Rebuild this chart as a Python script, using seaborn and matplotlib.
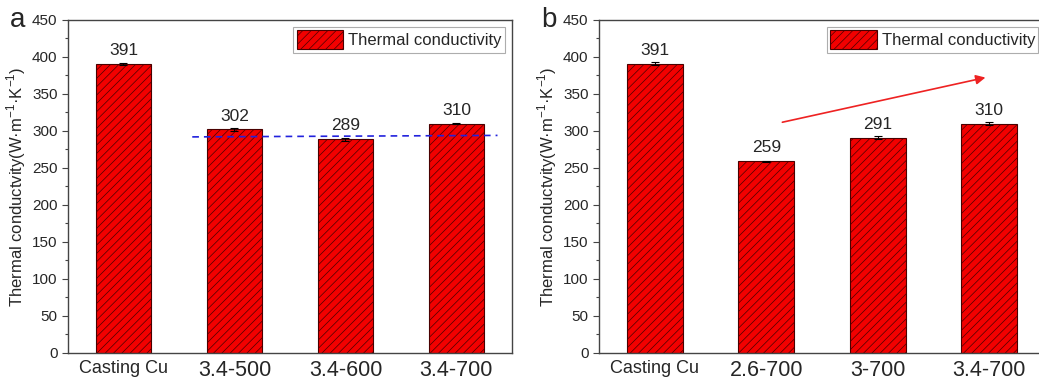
import pandas as pd
import seaborn as sns
import matplotlib.pyplot as plt

sns.set_style("white")
plt.rcParams['font.family'] = ['Liberation Sans', 'DejaVu Sans']
plt.rcParams['hatch.linewidth'] = 0.5
plt.rcParams['hatch.color'] = '#7a0000'

# Panel a data
cats_a = ["Casting Cu", "3.4-500", "3.4-600", "3.4-700"]
vals_a = [391, 302, 289, 310]
errs_a = [1.2, 2.0, 2.0, 1.2]

# Panel b data
cats_b = ["Casting Cu", "2.6-700", "3-700", "3.4-700"]
vals_b = [391, 259, 291, 310]
errs_b = [2.0, 1.0, 2.0, 2.0]

# Guide marks (data coordinates)
dash_x = [0.62, 3.37]
dash_y = [292, 294]
arrow_start = (1.12, 311)
arrow_end = (2.99, 373)

ylabel = "Thermal conductvity(W·m$^{\\mathregular{-1}}$·K$^{\\mathregular{-1}}$)"

fig = plt.figure(figsize=(10.39, 3.87), dpi=100)
ax_a = fig.add_axes([0.0654, 0.0879, 0.4273, 0.8605])
ax_b = fig.add_axes([0.5765, 0.0879, 0.4293, 0.8605])


def draw_panel(ax, cats, vals, errs, letter):
    df = pd.DataFrame({"sample": cats, "k": vals})
    sns.barplot(data=df, x="sample", y="k", ax=ax, color="#f20000",
                width=0.5, edgecolor="#4a0000", linewidth=0.8,
                saturation=1, label="Thermal conductivity")
    for p in ax.patches:
        p.set_hatch("////")
    ax.errorbar(range(len(cats)), vals, yerr=errs, fmt="none",
                ecolor="black", elinewidth=0.8, capsize=3, capthick=0.8)
    for i, v in enumerate(vals):
        ax.text(i, v + 8, str(v), ha="center", va="bottom", fontsize=12.5)
    ax.set_xlim(-0.5, len(cats) - 0.5)
    ax.set_ylim(0, 450)
    ax.set_yticks(range(0, 451, 50))
    ax.set_yticks(range(25, 451, 50), minor=True)
    ax.tick_params(axis="y", which="major", length=4, width=0.8,
                   labelsize=11, left=True, direction="out", color="#444444")
    ax.tick_params(axis="y", which="minor", length=2.5, width=0.8,
                   left=True, direction="out", color="#444444")
    ax.tick_params(axis="x", length=0, labelsize=15.5, pad=5)
    labels = ax.get_xticklabels()
    labels[0].set_fontsize(13)
    ax.set_xlabel("")
    ax.set_ylabel(ylabel, fontsize=12, labelpad=3)
    for s in ax.spines.values():
        s.set_color("#444444")
        s.set_linewidth(1.0)
    leg = ax.legend(loc="upper right", fontsize=12, frameon=True,
                    fancybox=False, edgecolor="#999999",
                    borderaxespad=0.4, handlelength=2.8, handleheight=1.4,
                    borderpad=0.2, handletextpad=0.3)
    leg.get_frame().set_linewidth(0.8)
    ax.text(-0.13, 1.0, letter, transform=ax.transAxes, fontsize=20,
            ha="left", va="center")


draw_panel(ax_a, cats_a, vals_a, errs_a, "a")
draw_panel(ax_b, cats_b, vals_b, errs_b, "b")

ax_a.plot(dash_x, dash_y, ls=(0, (4, 3)), color="#2222dd", lw=1.2)
ax_b.annotate("", xy=arrow_end, xytext=arrow_start,
              arrowprops=dict(arrowstyle="-|>", color="#ee2222", lw=1.2,
                              mutation_scale=14))

fig.savefig("out.png", dpi=100)
